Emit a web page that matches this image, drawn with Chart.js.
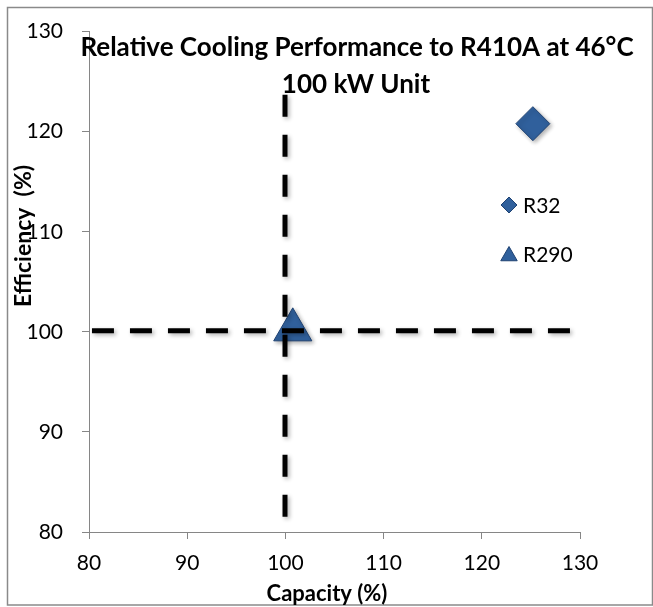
<!DOCTYPE html>
<html>
<head>
<meta charset="utf-8">
<script src="https://cdn.jsdelivr.net/npm/chart.js@4.4.0/dist/chart.umd.min.js"></script>
<style>
  html, body { margin: 0; padding: 0; background: #ffffff; }
  #wrap { width: 653px; height: 607px; position: relative; }
</style>
</head>
<body>
<div id="wrap"><canvas id="c" width="653" height="607"></canvas></div>
<script>
// ---- data ----
const seriesNames = ["R32", "R290"];
const r32Point = [{ x: 125.2, y: 120.8 }];
const r290Point = [{ x: 100.75, y: 100.2 }];
const refLineH = [{ x: 80.3, y: 100.1 }, { x: 129.1, y: 100.1 }];
const refLineV = [{ x: 99.96, y: 123.7 }, { x: 99.96, y: 80 }];
const axisMin = 80, axisMax = 130, axisStep = 10;
const titleLines = ["Relative Cooling Performance to R410A at 46°C", "100 kW Unit"];
const xTitle = "Capacity (%)";
const yTitle = "Efficiency  (%)";

const markerFill = "#30609c";
const markerEdge = "#1f4272";
const axisGray = "#868686";
const FONT = "Lato, 'Open Sans', sans-serif";

const shadowPlugin = {
  id: "shadows",
  beforeDatasetDraw(chart) {
    const ctx = chart.ctx;
    ctx.save();
    ctx.shadowColor = "rgba(0,0,0,0.30)";
    ctx.shadowBlur = 4;
    ctx.shadowOffsetX = 2;
    ctx.shadowOffsetY = 2;
  },
  afterDatasetDraw(chart) {
    chart.ctx.restore();
  }
};

const decorPlugin = {
  id: "decor",
  afterDraw(chart) {
    const ctx = chart.ctx;
    ctx.save();
    // outer frame
    ctx.strokeStyle = "#8a8a8a";
    ctx.lineWidth = 1.5;
    ctx.strokeRect(7.5, 7.5, 645, 597.5);

    // title
    ctx.fillStyle = "#000";
    ctx.textAlign = "center";
    ctx.textBaseline = "alphabetic";
    ctx.font = "bold 26px " + FONT;
    ctx.fillText(titleLines[0], 357, 56);
    ctx.fillText(titleLines[1], 356, 93);

    // axis titles
    ctx.font = "bold 22px " + FONT;
    ctx.fillText(xTitle, 327, 601);
    ctx.save();
    ctx.translate(24, 236);
    ctx.rotate(-Math.PI / 2);
    ctx.textBaseline = "middle";
    ctx.font = "bold 23px " + FONT;
    ctx.fillText(yTitle, 0, 0);
    ctx.restore();

    // legend
    const items = [
      { label: seriesNames[0], style: "rectRot", r: 8, y: 205 },
      { label: seriesNames[1], style: "triangle", r: 9.5, y: 254 }
    ];
    ctx.font = "21px " + FONT;
    ctx.textAlign = "left";
    ctx.textBaseline = "middle";
    items.forEach(it => {
      ctx.fillStyle = markerFill;
      ctx.strokeStyle = markerEdge;
      ctx.lineWidth = 1;
      Chart.helpers.drawPoint(ctx, { pointStyle: it.style, radius: it.r, borderWidth: 1 }, 509, it.y + (it.style === "triangle" ? 2 : 0));
      ctx.fillStyle = "#000";
      ctx.fillText(it.label, 523, it.y + 1);
    });
    ctx.restore();
  }
};

new Chart(document.getElementById("c"), {
  type: "scatter",
  data: {
    datasets: [
      {
        label: "refH", type: "line", data: refLineH, order: 0,
        borderColor: "#000", borderWidth: 5, borderDash: [22, 16], borderCapStyle: "butt",
        pointRadius: 0, fill: false, tension: 0
      },
      {
        label: "refV", type: "line", data: refLineV, order: 0,
        borderColor: "#000", borderWidth: 5, borderDash: [22, 18], borderCapStyle: "butt",
        pointRadius: 0, fill: false, tension: 0
      },
      {
        label: seriesNames[0], data: r32Point, order: 1,
        pointStyle: "rectRot", pointRadius: 17, pointHoverRadius: 17,
        backgroundColor: markerFill, borderColor: markerEdge, borderWidth: 1
      },
      {
        label: seriesNames[1], data: r290Point, order: 1,
        pointStyle: "triangle", pointRadius: 22, pointHoverRadius: 22,
        backgroundColor: markerFill, borderColor: markerEdge, borderWidth: 1
      }
    ]
  },
  options: {
    responsive: false,
    animation: false,
    events: [],
    layout: { padding: { left: 0, top: 24, right: 73, bottom: 0 } },
    plugins: {
      legend: { display: false },
      title: { display: false },
      tooltip: { enabled: false }
    },
    scales: {
      x: {
        type: "linear", min: axisMin, max: axisMax,
        ticks: { stepSize: axisStep, color: "#000", font: { family: FONT, size: 21 }, padding: 12 },
        grid: { drawOnChartArea: false, drawTicks: true, tickLength: 7, color: axisGray },
        border: { display: true, color: axisGray, width: 1 },
        afterFit(s) { s.height = 75; }
      },
      y: {
        type: "linear", min: axisMin, max: axisMax,
        ticks: { stepSize: axisStep, color: "#000", font: { family: FONT, size: 21 }, padding: 19 },
        grid: { drawOnChartArea: false, drawTicks: true, tickLength: 7, color: axisGray },
        border: { display: true, color: axisGray, width: 1 },
        afterFit(s) { s.width = 89; }
      }
    }
  },
  plugins: [shadowPlugin, decorPlugin]
});
</script>
</body>
</html>
